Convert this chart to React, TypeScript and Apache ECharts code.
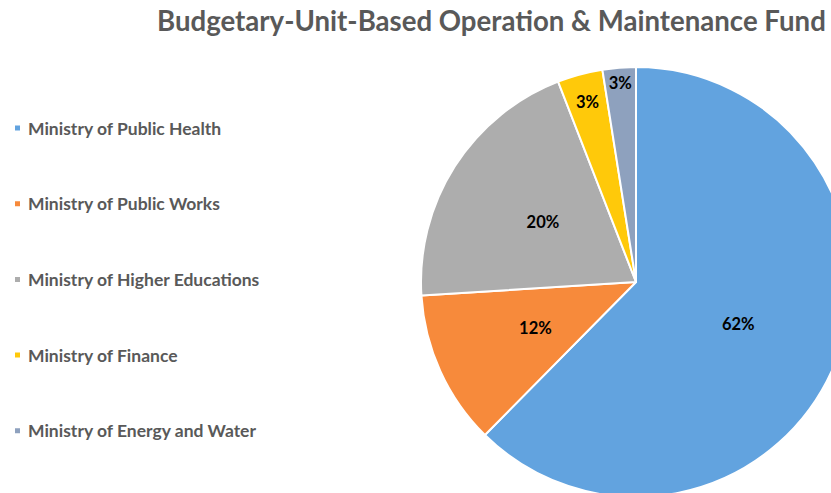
import React, { useEffect, useRef } from "react";
import * as echarts from "echarts";

const titleText = "Budgetary-Unit-Based Operation & Maintenance Fund";
const categories = [
  "Ministry of Public Health",
  "Ministry of Public Works",
  "Ministry of Higher Educations",
  "Ministry of Finance",
  "Ministry of Energy and Water",
];
const shares = [62.4, 11.6, 20.1, 3.4, 2.5];
const colors = ["#62a3df", "#f78a3b", "#adadad", "#ffc90a", "#8ea1be"];
const FONT = "Lato";

export default function App() {
  const ref = useRef<HTMLDivElement>(null);
  useEffect(() => {
    if (!ref.current) return;
    const chart = echarts.init(ref.current, undefined, { renderer: "svg" });
    const total = shares.reduce((a, b) => a + b, 0);
    const pct = (v: number) => `${Math.round((v / total) * 100)}%`;
    const labelStyle = {
      position: "inside",
      fontFamily: FONT,
      fontSize: 16.5,
      fontWeight: "bold",
      color: "#000",
      formatter: (p: any) => pct(p.value),
    };
    const overlay = (showIdx: number, radius: [number, number]) => ({
      type: "pie",
      center: [636, 282],
      radius,
      startAngle: 90,
      clockwise: true,
      silent: true,
      legendHoverLink: false,
      itemStyle: { color: "transparent", borderWidth: 0 },
      emphasis: { disabled: true },
      labelLine: { show: false },
      data: categories.map((name, i) => ({
        name,
        value: shares[i],
        itemStyle: { color: "transparent" },
        label: { show: i === showIdx },
      })),
      label: labelStyle,
      z: 5,
    });
    chart.setOption({
      animation: false,
      backgroundColor: "#ffffff",
      title: {
        text: titleText,
        left: 157,
        top: 6,
        padding: 0,
        textStyle: {
          fontFamily: FONT,
          fontSize: 27.6,
          fontWeight: "bold",
          color: "#595959",
        },
      },
      legend: {
        orient: "vertical",
        left: 13,
        top: 118,
        padding: 0,
        itemWidth: 7,
        itemHeight: 7,
        itemGap: 55.7,
        icon: "rect",
        data: categories,
        textStyle: {
          fontFamily: FONT,
          fontSize: 17.5,
          fontWeight: "bold",
          color: "#595959",
          lineHeight: 20,
          padding: [0, 0, 0, 2],
        },
      },
      series: [
        {
          type: "pie",
          center: [636, 282],
          radius: [0, 215],
          startAngle: 90,
          clockwise: true,
          itemStyle: { borderColor: "#ffffff", borderWidth: 2 },
          labelLine: { show: false },
          emphasis: { disabled: true },
          data: categories.map((name, i) => ({
            name,
            value: shares[i],
            itemStyle: { color: colors[i] },
            label: { show: i < 3 },
          })),
          label: labelStyle,
        },
        overlay(3, [166, 200]),
        overlay(4, [186, 208]),
      ],
    });
    return () => chart.dispose();
  }, []);
  return (
    <div
      ref={ref}
      style={{ position: "absolute", left: 0, top: 0, width: 831, height: 493 }}
    />
  );
}
